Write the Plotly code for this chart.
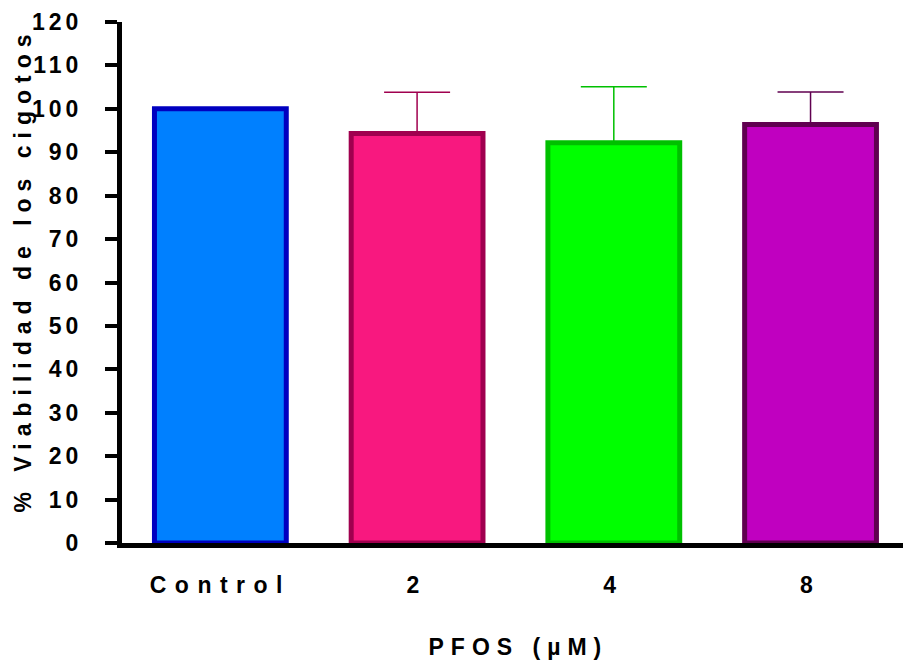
import plotly.graph_objects as go

categories = ["Control", "2", "4", "8"]
viability = [100.0, 94.3, 92.2, 96.4]
error_plus = [0.0, 9.5, 12.9, 7.5]
fill_colors = ["#0080FF", "#F8187F", "#00FF00", "#C000C0"]
line_colors = ["#0000C0", "#A0004F", "#00C000", "#600050"]
y_ticks = list(range(0, 121, 10))
y_title = "% Viabilidad de los cigotos"
x_title = "PFOS (µM)"

FONT = "Liberation Sans, Arial, sans-serif"
FS = 23

fig = go.Figure()
for cat, val, err, fc, lc in zip(categories, viability, error_plus, fill_colors, line_colors):
    fig.add_trace(go.Bar(
        x=[cat], y=[val], width=0.67,
        marker=dict(color=fc, line=dict(color=lc, width=5)),
        error_y=dict(type="data", symmetric=False, array=[err], arrayminus=[0],
                     visible=err > 0, color=lc, thickness=1.5, width=33),
        showlegend=False,
    ))

fig.update_layout(
    width=903, height=666,
    margin=dict(l=122, r=0, t=22, b=123, pad=0),
    plot_bgcolor="white", paper_bgcolor="white",
    barmode="overlay",
    font=dict(family=FONT, size=FS, color="black", weight="bold"),
    xaxis=dict(
        type="category", range=[-0.5, 3.47],
        showline=True, linewidth=5, linecolor="black",
        ticks="", showgrid=False, zeroline=False,
        tickfont=dict(family=FONT, size=FS, color="black", weight="bold"),
        ticklabelstandoff=17,
    ),
    yaxis=dict(
        range=[0, 120], tickvals=y_ticks, ticktext=[str(v) for v in y_ticks],
        showline=True, linewidth=5, linecolor="black",
        ticks="outside", ticklen=12, tickwidth=4, tickcolor="black",
        showgrid=False, zeroline=False,
        tickfont=dict(family=FONT, size=FS, color="black", weight="bold"),
        ticklabelstandoff=18,
    ),
    annotations=[
        dict(text=y_title, xref="paper", yref="paper", x=(23 - 122) / 781, y=(543 - 270) / 521,
             xanchor="center", yanchor="middle", textangle=-90, showarrow=False,
             font=dict(family=FONT, size=FS, color="black", weight="bold")),
        dict(text=x_title, xref="paper", yref="paper", x=(518 - 122) / 781, y=(543 - 647) / 521,
             xanchor="center", yanchor="middle", showarrow=False,
             font=dict(family=FONT, size=FS, color="black", weight="bold")),
    ],
)

post = """
document.body.style.margin = '0';
var gd = document.getElementById('{plot_id}');
gd.querySelectorAll('.xtick text').forEach(function(t){ t.setAttribute('letter-spacing', '8.5px'); });
gd.querySelectorAll('.ytick text').forEach(function(t){ t.setAttribute('letter-spacing', '4px'); });
gd.querySelectorAll('.annotation-text').forEach(function(t){ t.setAttribute('letter-spacing', '7px'); });
"""
fig.write_html("out.html", post_script=post, config={"displayModeBar": False})
